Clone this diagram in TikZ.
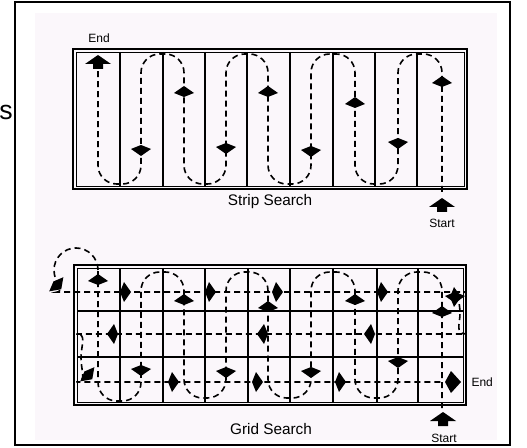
\documentclass[tikz,border=0pt]{standalone}
\usepackage{fontspec}
\setmainfont{Liberation Sans}
\tikzset{every picture/.style={line width=0.75pt}}
\tikzset{
trail/.style={dash pattern={on 4.5pt off 3pt}, line width=1.2pt, rounded corners=14pt},
frame/.style={line width=2pt},
inframe/.style={line width=0.7pt},
cell/.style={line width=1pt},
kite/.pic={\fill (0,6) -- (-10,-1) -- (0,-5) -- (10,-1) -- cycle;},
bigkite/.pic={\fill (0,9) -- (-11,-1) -- (0,-7) -- (11,-1) -- cycle;},
house/.pic={\fill (0,8) -- (-13,-1) -- (-5,-1) -- (-5,-6) -- (5,-6) -- (5,-1) -- (13,-1) -- cycle;}
}
\begin{document}
\begin{tikzpicture}[x=0.75pt,y=0.75pt,yscale=-1,xscale=1]
\useasboundingbox (0,0) rectangle (527,448);
%Shape: Rectangle [background]
\fill [color={rgb, 255:red, 251; green, 247; blue, 251 }] (35,13) rectangle (497,440);
%Shape: Rectangle [outer frame]
\draw [line width=1.5pt] (15,2) rectangle (510,445);

%Shape: Rectangle [strip]
\draw [frame] (73,49) rectangle (467,189);
\draw [inframe] (76,52) rectangle (464,186);
%Straight Lines [strip columns]
\draw [cell] (120,52) -- (120,186) (163,52) -- (163,186) (205,52) -- (205,186) (247,52) -- (247,186) ;
\draw [cell] (290,52) -- (290,186) (333,52) -- (333,186) (375,52) -- (375,186) (417,52) -- (417,186) ;
%Curve Lines [strip path]
\draw [trail] (442,192) -- (442,54) -- (398,54) -- (398,184) -- (355,184) -- (355,54) -- (311,54) -- (311,184) -- (268,184) -- (268,54) -- (226,54) -- (226,184) -- (184,184) -- (184,54) -- (141,54) -- (141,184) -- (98,184) -- (98,70) ;
%Markers [strip]
\pic at (98,63) {house};
\pic at (442,206) {house};
\pic at (442,82) {kite};
\pic [rotate=180] at (398,143) {kite};
\pic at (355,103) {kite};
\pic [rotate=180] at (311,151) {kite};
\pic at (268,92) {kite};
\pic [rotate=180] at (226,148) {kite};
\pic at (184,92) {kite};
\pic [rotate=180] at (141,150) {kite};

%Shape: Rectangle [grid]
\draw [frame] (74,265) rectangle (466,405);
\draw [inframe] (77,268) rectangle (463,402);
%Straight Lines [grid cells]
\draw [cell] (120,268) -- (120,402) (163,268) -- (163,402) (205,268) -- (205,402) (248,268) -- (248,402) ;
\draw [cell] (290,268) -- (290,402) (333,268) -- (333,402) (377,268) -- (377,402) (418,268) -- (418,402) ;
\draw [cell] (77,311) -- (463,311) (77,357) -- (463,357) ;
%Curve Lines [grid path, vertical]
\draw [trail] (442,408) -- (442,272) -- (398,272) -- (398,398) -- (355,398) -- (355,272) -- (311,272) -- (311,398) -- (268,398) -- (268,272) -- (226,272) -- (226,398) -- (184,398) -- (184,272) -- (141,272) -- (141,401) -- (98,401) -- (98,270) ;
%Curve Lines [grid path, horizontal]
\draw [trail] (98,270) arc [start angle=0, end angle=-270, radius=22] -- (448,292) arc [start angle=-90, end angle=90, x radius=12, y radius=21] -- (95,334) arc [start angle=-90, end angle=-270, x radius=14, y radius=24] -- (444,382) ;
%Markers [grid]
\pic at (443,420) {house};
\pic [rotate=-90] at (452,382) {bigkite};
\pic at (442,312) {kite};
\pic [rotate=180] at (398,362) {kite};
\pic at (355,300) {kite};
\pic [rotate=180] at (311,372) {kite};
\pic at (268,307) {kite};
\pic [rotate=180] at (226,372) {kite};
\pic at (184,300) {kite};
\pic [rotate=180] at (141,370) {kite};
\pic at (98,280) {kite};
\pic [rotate=-90] at (125,292) {kite};
\pic [rotate=-90] at (210,292) {kite};
\pic [rotate=-90] at (277,292) {kite};
\pic [rotate=-90] at (382,292) {kite};
\pic [rotate=-90] at (455,297) {kite};
\pic [rotate=180] at (455,297) {kite};
\pic [rotate=90] at (113,334) {kite};
\pic [rotate=90] at (263,334) {kite};
\pic [rotate=90] at (370,334) {kite};
\pic [rotate=-90] at (173,382) {kite};
\pic [rotate=-90] at (257,382) {kite};
\pic [rotate=-90] at (340,382) {kite};
\pic [rotate=-135] at (57,285) {kite};
\pic [rotate=-135] at (88,375) {kite};

% Text Node
\draw (6,112) node (lblS) [inner sep=0.75pt] [font=\fontsize{20}{22}\selectfont] {s};
% Text Node
\draw (99,38) node (lblEndA) [inner sep=0.75pt] [font=\fontsize{9}{10}\selectfont] {End};
% Text Node
\draw (270,202) node (lblStrip) [inner sep=0.75pt] [font=\fontsize{11.5}{13}\selectfont] {Strip Search};
% Text Node
\draw (442,223) node (lblStartA) [inner sep=0.75pt] [font=\fontsize{9}{10}\selectfont] {Start};
% Text Node
\draw (271,429) node (lblGrid) [inner sep=0.75pt] [font=\fontsize{11.5}{13}\selectfont] {Grid Search};
% Text Node
\draw (470,382) node (lblEndB) [anchor=west] [inner sep=0.75pt] [font=\fontsize{9}{10}\selectfont] {End};
% Text Node
\draw (444,438) node (lblStartB) [inner sep=0.75pt] [font=\fontsize{9}{10}\selectfont] {Start};

\end{tikzpicture}
\end{document}
